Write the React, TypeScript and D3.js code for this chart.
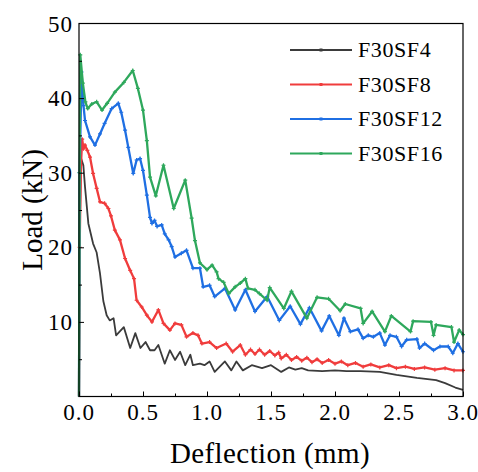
import React, { useEffect, useRef } from 'react';
import * as d3 from 'd3';

// deflection (mm), load (kN)
const seriesNames = ['F30SF4', 'F30SF8', 'F30SF12', 'F30SF16'];
const seriesColors = ['#3b3b3b', '#f03c3c', '#1f6fe3', '#2ea85c'];

const f30sf4: [number, number][] = [
  [0, 0], [0.005, 20], [0.015, 32], [0.034, 31], [0.047, 28.1], [0.073, 23.2], [0.11, 20.5], [0.138, 19.3],
  [0.164, 16.5], [0.19, 12.8], [0.216, 10.9], [0.24, 10.2], [0.27, 10.5], [0.29, 8.2], [0.35, 9.3], [0.4, 6.5],
  [0.44, 8.5], [0.48, 6.5], [0.52, 7.3], [0.555, 6.2], [0.59, 6.2], [0.62, 6.9], [0.67, 4.4], [0.71, 6.2],
  [0.75, 4.9], [0.79, 6.0], [0.83, 4.2], [0.87, 5.6], [0.89, 4.2], [0.945, 4.4], [0.98, 4.2], [1.02, 4.7],
  [1.06, 3.3], [1.14, 4.7], [1.19, 3.5], [1.23, 4.7], [1.28, 3.5], [1.35, 4.2], [1.43, 3.8], [1.5, 4.2],
  [1.58, 3.3], [1.64, 3.9], [1.69, 3.6], [1.74, 3.8], [1.79, 3.5], [1.9, 3.4], [2.0, 3.5], [2.09, 3.4],
  [2.2, 3.4], [2.35, 3.3], [2.48, 2.9], [2.64, 2.5], [2.79, 2.2], [2.86, 1.8], [2.94, 1.2], [3.0, 0.9],
];

const f30sf8: [number, number][] = [
  [0, 0], [0.005, 20], [0.015, 31], [0.025, 34.5], [0.035, 33.2], [0.047, 33.7], [0.065, 33.0], [0.086, 32.1],
  [0.11, 29.9], [0.138, 27.9], [0.164, 26.1], [0.2, 25.9], [0.23, 25.2], [0.25, 24.2], [0.28, 22.3], [0.32, 21.0],
  [0.36, 18.5], [0.4, 16.9], [0.43, 15.8], [0.45, 12.9], [0.49, 12.0], [0.53, 10.9], [0.57, 10.0], [0.62, 11.6],
  [0.66, 9.8], [0.71, 8.9], [0.75, 9.8], [0.8, 9.6], [0.84, 8.0], [0.89, 8.5], [0.93, 8.2], [0.96, 7.1],
  [1.02, 7.3], [1.075, 6.5], [1.15, 7.1], [1.2, 6.0], [1.26, 6.9], [1.3, 5.6], [1.34, 6.3], [1.375, 5.7],
  [1.41, 6.3], [1.45, 5.6], [1.49, 6.1], [1.53, 5.5], [1.56, 5.9], [1.58, 5.1], [1.62, 5.6], [1.66, 4.9],
  [1.7, 5.3], [1.74, 4.8], [1.78, 5.2], [1.82, 4.6], [1.86, 5.0], [1.9, 4.5], [1.95, 4.9], [2.0, 4.4],
  [2.05, 4.7], [2.1, 4.2], [2.16, 4.5], [2.22, 4.0], [2.28, 4.3], [2.35, 3.9], [2.42, 4.2], [2.48, 3.8],
  [2.55, 4.0], [2.62, 3.7], [2.7, 3.9], [2.78, 3.6], [2.86, 3.8], [2.93, 3.5], [3.0, 3.5],
];

const f30sf12: [number, number][] = [
  [0, 0], [0.005, 30], [0.02, 43.5], [0.035, 39], [0.047, 37.0], [0.086, 34.8], [0.125, 33.7], [0.164, 35.2],
  [0.2, 36.6], [0.255, 38.6], [0.307, 39.3], [0.33, 38.1], [0.36, 35.7], [0.385, 33.4], [0.424, 29.9], [0.45, 31.7],
  [0.477, 31.9], [0.5, 30.3], [0.53, 27.0], [0.555, 24.0], [0.57, 23.2], [0.59, 23.6], [0.61, 22.8], [0.646, 23.0],
  [0.67, 21.8], [0.7, 21.0], [0.724, 20.1], [0.75, 18.7], [0.8, 19.2], [0.84, 19.6], [0.89, 17.2], [0.945, 17.2],
  [0.97, 14.7], [1.02, 14.9], [1.06, 13.4], [1.14, 14.5], [1.22, 11.6], [1.3, 14.3], [1.375, 11.4], [1.47, 13.4],
  [1.565, 10.2], [1.65, 12.1], [1.73, 9.7], [1.8, 11.9], [1.895, 8.8], [1.955, 10.8], [2.03, 8.2], [2.07, 10.5],
  [2.12, 8.7], [2.18, 9.0], [2.22, 7.8], [2.26, 8.2], [2.3, 8.0], [2.35, 8.5], [2.39, 6.9], [2.43, 8.2],
  [2.48, 8.0], [2.52, 6.7], [2.56, 7.6], [2.64, 7.7], [2.66, 6.5], [2.7, 7.1], [2.77, 6.2], [2.82, 6.7],
  [2.885, 6.7], [2.92, 5.8], [2.96, 7.1], [3.0, 6.0],
];

const f30sf16: [number, number][] = [
  [0, 0], [0.005, 30], [0.01, 45.8], [0.03, 42], [0.05, 39.5], [0.068, 38.6], [0.1, 39.2], [0.138, 39.5],
  [0.18, 38.4], [0.22, 39.3], [0.28, 40.8], [0.35, 42.1], [0.42, 43.7], [0.46, 41.3], [0.5, 38.4], [0.53, 34.3],
  [0.555, 29.4], [0.6, 26.9], [0.66, 31.0], [0.74, 25.2], [0.83, 29.0], [0.88, 23.9], [0.906, 20.9], [0.945, 17.9],
  [1.0, 17.0], [1.04, 17.6], [1.075, 16.7], [1.09, 15.8], [1.13, 15.3], [1.17, 13.8], [1.22, 14.7], [1.26, 15.2],
  [1.3, 15.8], [1.32, 14.5], [1.375, 14.3], [1.41, 13.8], [1.47, 12.9], [1.49, 14.6], [1.6, 11.8], [1.66, 14.1],
  [1.78, 10.5], [1.86, 13.3], [1.95, 13.1], [2.04, 11.5], [2.08, 12.4], [2.2, 11.8], [2.22, 9.8], [2.29, 11.4],
  [2.39, 8.7], [2.44, 10.8], [2.59, 8.7], [2.61, 10.1], [2.75, 10.0], [2.77, 8.2], [2.79, 9.6], [2.91, 9.3],
  [2.93, 7.3], [2.97, 8.9], [3.0, 8.3],
];

const allSeries = [f30sf4, f30sf8, f30sf12, f30sf16];
const xTicks = [0, 0.5, 1.0, 1.5, 2.0, 2.5, 3.0];
const yTicks = [10, 20, 30, 40, 50];

const FONT = "'Liberation Serif', 'DejaVu Serif', serif";

export default function App() {
  const ref = useRef<SVGSVGElement>(null);

  useEffect(() => {
    const svg = d3.select(ref.current);
    svg.selectAll('*').remove();

    const left = 79, right = 463, top = 23.5, bottom = 396.5;
    const x = d3.scaleLinear().domain([0, 3]).range([left, right]);
    const y = d3.scaleLinear().domain([0, 50]).range([bottom, top]);

    const line = d3.line<[number, number]>()
      .x(d => x(d[0]))
      .y(d => y(d[1]));

    const plot = svg.append('g');
    allSeries.forEach((data, i) => {
      plot.append('path')
        .attr('d', line(data))
        .attr('fill', 'none')
        .attr('stroke', seriesColors[i])
        .attr('stroke-width', i === 0 ? 1.8 : 2.3)
        .attr('stroke-linejoin', 'round');
      // small plus markers on each point (black curve shows none)
      if (i === 0) return;
      plot.selectAll('.m' + i)
        .data(data.slice(1))
        .enter().append('path')
        .attr('d', d => {
          const px = x(d[0]), py = y(d[1]);
          return `M${px - 2},${py}H${px + 2}M${px},${py - 2}V${py + 2}`;
        })
        .attr('stroke', seriesColors[i])
        .attr('stroke-width', 1.2);
    });

    // frame
    svg.append('rect')
      .attr('x', left).attr('y', top)
      .attr('width', right - left).attr('height', bottom - top)
      .attr('fill', 'none').attr('stroke', '#000').attr('stroke-width', 1.2);

    // bottom axis, ticks inward
    const xAxis = svg.append('g').attr('transform', `translate(0,${bottom})`);
    xAxis.call(d3.axisTop(x).tickValues(d3.range(0, 3.01, 0.25)).tickSize(5).tickFormat(() => ''));
    xAxis.selectAll('.tick line').attr('y2', (d: any) => (Math.round(d * 4) % 2 === 0 ? -5 : -3));
    xAxis.select('.domain').remove();
    svg.append('g').selectAll('text')
      .data(xTicks).enter().append('text')
      .attr('x', d => x(d)).attr('y', 420)
      .attr('text-anchor', 'middle')
      .style('font-family', FONT).attr('font-size', 23)
      .attr('letter-spacing', 1)
      .text(d => d3.format('.1f')(d));

    // left axis, ticks inward
    const yAxis = svg.append('g').attr('transform', `translate(${left},0)`);
    yAxis.call(d3.axisRight(y).tickValues(d3.range(5, 50, 5)).tickSize(5).tickFormat(() => ''));
    yAxis.selectAll('.tick line').attr('x2', (d: any) => (d % 10 === 0 ? 5 : 3));
    yAxis.select('.domain').remove();
    svg.append('g').selectAll('text')
      .data(yTicks).enter().append('text')
      .attr('x', 73).attr('y', d => y(d) + 8)
      .attr('text-anchor', 'end')
      .style('font-family', FONT).attr('font-size', 23)
      .attr('letter-spacing', 1)
      .text(d => d);

    // titles
    svg.append('text')
      .attr('x', (left + right) / 2 - 1).attr('y', 463)
      .attr('text-anchor', 'middle')
      .style('font-family', FONT).attr('font-size', 29)
      .attr('letter-spacing', 0.4)
      .text('Deflection (mm)');
    svg.append('text')
      .attr('transform', `translate(42,${(top + bottom) / 2}) rotate(-90)`)
      .attr('text-anchor', 'middle')
      .style('font-family', FONT).attr('font-size', 29)
      .text('Load (kN)');

    // legend
    const legend = svg.append('g');
    seriesNames.forEach((name, i) => {
      const ly = 50 + i * 34.5;
      legend.append('line')
        .attr('x1', 290).attr('x2', 352).attr('y1', ly).attr('y2', ly)
        .attr('stroke', seriesColors[i]).attr('stroke-width', 2);
      legend.append('rect')
        .attr('x', 319.5).attr('y', ly - 1.5).attr('width', 3).attr('height', 3)
        .attr('fill', seriesColors[i]);
      legend.append('text')
        .attr('x', 358).attr('y', ly + 7)
        .style('font-family', FONT).attr('font-size', 22)
        .attr('letter-spacing', 0.6)
        .text(name);
    });
  }, []);

  return (
    <svg ref={ref} width={478} height={472}
      style={{ position: 'absolute', left: 0, top: 0, background: '#fff' }} />
  );
}
